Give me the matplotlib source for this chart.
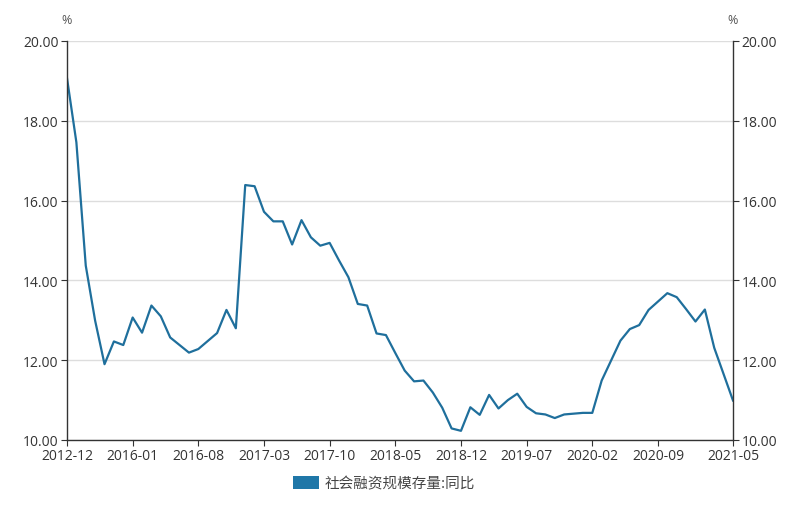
import matplotlib
matplotlib.use("Agg")
import matplotlib.pyplot as plt
from matplotlib.patches import Patch

plt.rcParams['font.family'] = ['Open Sans', 'Noto Sans CJK SC', 'DejaVu Sans']

dates = ["2012-12", "2013-12", "2014-12", "2015-03", "2015-06", "2015-09", "2015-12"]
for y in range(2016, 2022):
    for m in range(1, 13):
        if y == 2021 and m > 5:
            break
        dates.append(f"{y}-{m:02d}")

values = [19.07, 17.46, 14.37, 12.99, 11.90, 12.47, 12.38,
          13.07, 12.69, 13.37, 13.10, 12.57, 12.38, 12.19, 12.28, 12.48, 12.68, 13.26, 12.80,
          16.39, 16.36, 15.72, 15.48, 15.48, 14.90, 15.51, 15.08, 14.87, 14.94, 14.50, 14.08,
          13.41, 13.37, 12.67, 12.63, 12.18, 11.74, 11.47, 11.49, 11.19, 10.81, 10.29, 10.23,
          10.82, 10.63, 11.13, 10.79, 11.00, 11.16, 10.83, 10.67, 10.64, 10.55, 10.64, 10.66,
          10.68, 10.68, 11.49, 11.99, 12.49, 12.78, 12.88, 13.26, 13.47, 13.68, 13.58, 13.28,
          12.97, 13.27, 12.31, 11.65, 10.99]

series_name = "社会融资规模存量:同比"
y_ticks = [10, 12, 14, 16, 18, 20]

line_color = "#1f6f9c"
axis_color = "#333333"
text_color = "#333333"

fig = plt.figure(figsize=(8, 5.06), dpi=100)
ax = fig.add_axes([67/800, 65/506, 666/800, 399/506])
x = list(range(len(dates)))
ax.plot(x, values, color=line_color, lw=1.6, solid_joinstyle='round')

ax.set_xlim(0, len(dates) - 1)
ax.set_ylim(10, 20)
ax.set_yticks(y_ticks)
ax.set_yticklabels([f"{v:.2f}" for v in y_ticks])
tick_idx = list(range(0, len(dates) - 2, 7)) + [len(dates) - 1]
ax.set_xticks(tick_idx)
ax.set_xticklabels([dates[i] for i in tick_idx])

ax.grid(axis='y', color='#dddddd', lw=1)
ax.set_axisbelow(True)
ax.spines['top'].set_visible(False)
for s in ['left', 'right', 'bottom']:
    ax.spines[s].set_color(axis_color)
    ax.spines[s].set_linewidth(1)

ax.tick_params(axis='both', colors=axis_color, labelcolor=text_color, labelsize=10, length=4)
ax.tick_params(axis='x', pad=2)
ax.tick_params(axis='y', right=True, labelright=True, pad=2)

fig.text(67/800, 1 - 20/506, "%", ha='center', va='center', fontsize=9, color='#555555')
fig.text(733/800, 1 - 20/506, "%", ha='center', va='center', fontsize=9, color='#555555')

handle = Patch(facecolor="#1f77a8", edgecolor='none')
fig.legend([handle], [series_name], loc='center', bbox_to_anchor=(384/800, 1 - 484/506),
           frameon=False, handlelength=1.8, handleheight=1.0,
           handletextpad=0.4, labelcolor='#444444',
           prop={'family': ['Noto Sans CJK SC', 'DejaVu Sans'], 'size': 10.5})

fig.savefig("out.png", dpi=100)
